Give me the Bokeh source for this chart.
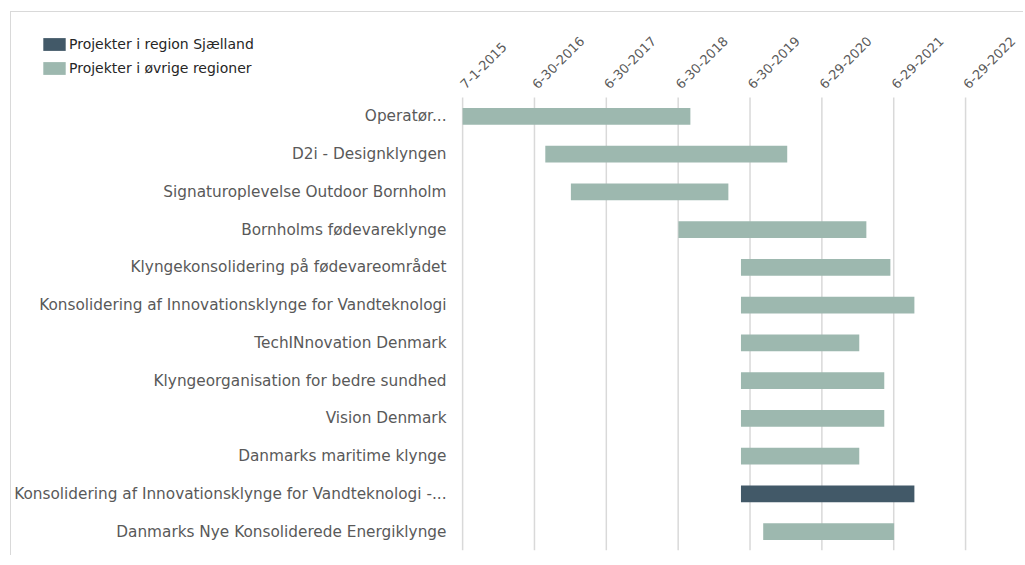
import math
import pandas as pd
from bokeh.plotting import figure
from bokeh.models import (ColumnDataSource, Range1d, LinearAxis, FixedTicker,
                          CustomJSTickFormatter, Legend, LegendItem)
from bokeh.embed import file_html
from bokeh.resources import INLINE

# ---- data ----
projects = [
    "Operatør...",
    "D2i - Designklyngen",
    "Signaturoplevelse Outdoor Bornholm",
    "Bornholms fødevareklynge",
    "Klyngekonsolidering på fødevareområdet",
    "Konsolidering af Innovationsklynge for Vandteknologi",
    "TechINnovation Denmark",
    "Klyngeorganisation for bedre sundhed",
    "Vision Denmark",
    "Danmarks maritime klynge",
    "Konsolidering af Innovationsklynge for Vandteknologi -...",
    "Danmarks Nye Konsoliderede Energiklynge",
]
start_dates = ["2015-07-01", "2016-08-24", "2017-01-01", "2018-07-01", "2019-05-15", "2019-05-15",
               "2019-05-15", "2019-05-15", "2019-05-15", "2019-05-15", "2019-05-15", "2019-09-05"]
end_dates = ["2018-08-31", "2020-01-05", "2019-03-12", "2021-02-10", "2021-06-12", "2021-10-12",
             "2021-01-05", "2021-05-12", "2021-05-12", "2021-01-05", "2021-10-12", "2021-07-01"]
region = ["øvrige", "øvrige", "øvrige", "øvrige", "øvrige", "øvrige",
          "øvrige", "øvrige", "øvrige", "øvrige", "Sjælland", "øvrige"]
tick_dates = ["2015-07-01", "2016-06-30", "2017-06-30", "2018-06-30", "2019-06-30",
              "2020-06-29", "2021-06-29", "2022-06-29"]
legend_labels = {"Sjælland": "Projekter i region Sjælland", "øvrige": "Projekter i øvrige regioner"}

LIGHT = "#9db8af"
DARK = "#425968"
GREY_TXT = "#595959"
GRID = "#d9d9d9"

def ms(d):
    return pd.Timestamp(d).value / 1e6

DAY = 86400000.0
n = len(projects)
row_pos = [n - 1 - i for i in range(n)]          # first project on top

df = pd.DataFrame({"project": projects, "row": row_pos,
                   "start": [ms(d) for d in start_dates],
                   "end": [ms(d) for d in end_dates],
                   "region": region})
ticks_ms = [ms(d) for d in tick_dates]

# geometry: the plot frame also covers the legend corner (page x 38, y 30)
FRAME_L, FRAME_R, FIRST_TICK_PX = 38, 1000, 461
PX_PER_DAY = 504.0 / 2555.0
x0 = ticks_ms[0]
x_start = x0 - (FIRST_TICK_PX - FRAME_L) / PX_PER_DAY * DAY
x_end = x0 + (FRAME_R - FIRST_TICK_PX) / PX_PER_DAY * DAY
ROW_PX = 453.0 / n
y_end = n - 0.5 + (97 - 30) / ROW_PX

p = figure(width=1013, height=544, output_backend="svg", toolbar_location=None,
           x_range=Range1d(x_start, x_end), y_range=Range1d(-0.5, y_end),
           x_axis_location=None, y_axis_location="left",
           min_border_left=27, min_border_top=18, min_border_bottom=6, min_border_right=24,
           outline_line_color=None, background_fill_color="white", border_fill_color="white")

p.styles = {"margin-left": "10px", "margin-top": "11px",
            "border-left": "1px solid #d9d9d9", "border-top": "1px solid #d9d9d9"}

# vertical gridlines over the bar area only
p.xgrid.grid_line_color = None
p.ygrid.grid_line_color = None
p.segment(x0=ticks_ms, x1=ticks_ms, y0=[-0.5] * len(ticks_ms), y1=[n - 0.5] * len(ticks_ms),
          line_color=GRID, line_width=1.5)

renderers = {}
for key, col in [("øvrige", LIGHT), ("Sjælland", DARK)]:
    src = ColumnDataSource(df[df.region == key])
    renderers[key] = p.hbar(y="row", left="start", right="end", height=0.44,
                            source=src, fill_color=col, line_color=None)

fmt = CustomJSTickFormatter(code="""
const d = new Date(tick);
return (d.getUTCMonth()+1) + '-' + d.getUTCDate() + '-' + d.getUTCFullYear();
""")
top = LinearAxis(ticker=FixedTicker(ticks=ticks_ms), formatter=fmt)
top.axis_line_color = None
top.major_tick_line_color = None
top.minor_tick_line_color = None
top.major_tick_out = 0
top.major_tick_in = 0
top.major_label_standoff = -56
top.major_label_orientation = math.pi / 4
top.major_label_text_font = "DejaVu Sans"
top.major_label_text_font_size = "13px"
top.major_label_text_color = GREY_TXT
p.add_layout(top, "above")

ya = p.yaxis[0]
ya.ticker = FixedTicker(ticks=row_pos)
ya.major_label_overrides = {r: name for r, name in zip(row_pos, projects)}
ya.axis_line_color = None
ya.major_tick_line_color = None
ya.minor_tick_line_color = None
ya.major_tick_out = 0
ya.major_tick_in = 0
ya.major_label_standoff = -406
ya.major_label_text_font = "DejaVu Sans"
ya.major_label_text_font_size = "15.3px"
ya.major_label_text_color = GREY_TXT

legend = Legend(items=[LegendItem(label=legend_labels["Sjælland"], renderers=[renderers["Sjælland"]]),
                       LegendItem(label=legend_labels["øvrige"], renderers=[renderers["øvrige"]])],
                location=(0, 472))
legend.padding = 0
legend.margin = 0
legend.spacing = 4
legend.label_height = 20
legend.glyph_height = 16
legend.glyph_width = 28
legend.label_standoff = 1
legend.label_text_font = "DejaVu Sans"
legend.label_text_font_size = "14px"
legend.label_text_color = "#262626"
legend.border_line_color = None
legend.background_fill_alpha = 0
p.add_layout(legend, "center")

open("out.html", "w").write(file_html(p, INLINE))
